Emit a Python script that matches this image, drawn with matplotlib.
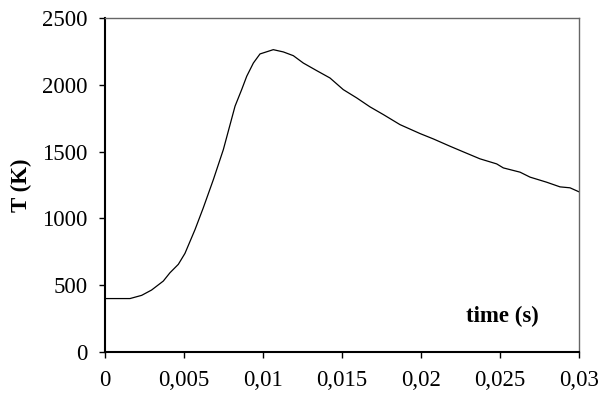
import matplotlib
matplotlib.use("Agg")
import matplotlib.pyplot as plt

# temperature history
t = [0.0, 0.00158, 0.00232, 0.00295, 0.00369, 0.00411, 0.00464, 0.00506, 0.0057,
     0.00622, 0.00686, 0.00749, 0.00823, 0.00865, 0.00897, 0.00939, 0.00981,
     0.01065, 0.01129, 0.01192, 0.01255, 0.0134, 0.01424, 0.01508, 0.01593,
     0.01677, 0.01762, 0.01867, 0.01994, 0.02078, 0.02184, 0.02268, 0.02373,
     0.02479, 0.02521, 0.02627, 0.0269, 0.02795, 0.0288, 0.02943, 0.03]
T = [400, 400, 424, 464, 531, 593, 656, 738, 917,
     1079, 1291, 1515, 1840, 1964, 2064, 2163, 2231,
     2263, 2246, 2218, 2163, 2106, 2051, 1964, 1902,
     1835, 1777, 1702, 1635, 1595, 1540, 1498, 1446,
     1408, 1378, 1346, 1309, 1271, 1236, 1229, 1199]

xticks = [0, 0.005, 0.01, 0.015, 0.02, 0.025, 0.03]
xlabels = ["0", "0,005", "0,01", "0,015", "0,02", "0,025", "0,03"]
yticks = [0, 500, 1000, 1500, 2000, 2500]

plt.rcParams['font.family'] = ['Liberation Serif', 'DejaVu Serif']
plt.rcParams['font.size'] = 16.5

fig = plt.figure(figsize=(6, 3.94), dpi=100)
ax = fig.add_axes([0.175, 0.1066, 0.79, 0.8477])
ax.plot(t, T, color='black', linewidth=0.9)

ax.set_xlim(0, 0.03)
ax.set_ylim(0, 2500)
ax.set_xticks(xticks)
ax.set_xticklabels(xlabels)
ax.set_yticks(yticks)
ax.tick_params(axis='y', direction='out', length=4.5, width=1, pad=8)
ax.tick_params(axis='x', direction='out', length=4, width=1, pad=9)

for s in ['left', 'bottom']:
    ax.spines[s].set_linewidth(1.5)
for s in ['right', 'top']:
    ax.spines[s].set_linewidth(1)
    ax.spines[s].set_color('#666666')

ax.set_ylabel('T (K)', fontweight='bold', labelpad=7)
ax.text(0.838, 0.105, 'time (s)', transform=ax.transAxes, fontweight='bold',
        ha='center', va='center')

fig.savefig('out.png', dpi=100)
